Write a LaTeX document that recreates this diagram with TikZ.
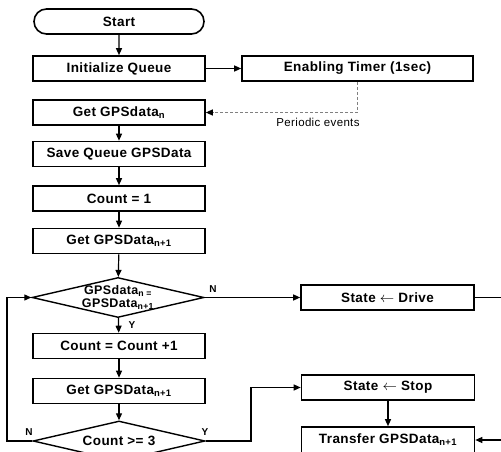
\documentclass[tikz,border=0pt]{standalone}
\usepackage{fontspec}
\setmainfont{Liberation Sans}[LetterSpace=3]
\usetikzlibrary{arrows.meta}
\usetikzlibrary{shapes.geometric}
\usetikzlibrary{shapes.misc}
\tikzset{procbox/.style={draw, line width=1.6pt, minimum width=172pt, minimum height=25pt, inner sep=1pt, font=\fontsize{13.5}{15}\selectfont\bfseries}}
\tikzset{termbox/.style={procbox, rounded rectangle}}
\tikzset{decision/.style={draw, diamond, line width=1.4pt, minimum width=172pt, minimum height=40pt, inner sep=0pt}}
\tikzset{flow/.style={line width=1.2pt, -{Triangle[length=7pt,width=6pt]}}}
\tikzset{yn/.style={font=\fontsize{10}{10}\selectfont\bfseries}}

\begin{document}
\begin{tikzpicture}[x=1pt, y=-1pt]
    \useasboundingbox (0,0) rectangle (501,452);
    \clip (0,0) rectangle (501,452);

    \node [termbox] (start) at (119, 21.5) {Start};
    \node [procbox] (init) at (119, 68.5) {Initialize Queue};
    \node [procbox, minimum width=231pt] (timer) at (357.5, 68.5) {Enabling Timer (1sec)};
    \node [procbox] (getn) at (119, 112.5) {Get GPSdata\textsubscript{n}};
    \node [procbox] (save) at (119, 154) {Save Queue GPSData};
    \node [procbox] (cnt) at (119, 198.5) {Count = 1};
    \node [procbox] (getna) at (119, 241) {Get GPSData\textsubscript{n+1}};
    \node [decision] (cmp) at (118, 297.5) {};
    \node [font=\fontsize{12.5}{13}\selectfont\bfseries, align=center] (cmptext) at (cmp) {GPSdata\textsubscript{n =}\\GPSData\textsubscript{n+1}};
    \node [procbox] (inc) at (119, 346) {Count = Count +1};
    \node [procbox] (getnb) at (119, 391) {Get GPSData\textsubscript{n+1}};
    \node [decision] (chk) at (119, 441) {};
    \node [font=\fontsize{13.5}{15}\selectfont\bfseries] (chktext) at (chk) {Count >= 3};

    \node [procbox, minimum width=173pt] (drive) at (387.5, 297.5) {State $\leftarrow$ Drive};
    \node [procbox, minimum width=173pt] (stop) at (388, 387.5) {State $\leftarrow$ Stop};
    \node [procbox, minimum width=173pt, minimum height=26pt] (xfer) at (388, 440) {Transfer GPSData\textsubscript{n+1}};

    \node [font=\fontsize{11.5}{13}\selectfont] (periodic) at (318, 122) {Periodic events};

    \coordinate (loopl) at (7, 441);
    \coordinate (loopr) at (251, 441);
    \coordinate (driveout) at (520, 297.5);
    \coordinate (xferin) at (520, 440);

    \draw [flow] (start) -- (init);
    \draw [flow] (init) -- (timer);
    \draw [line width=1pt, gray, dash pattern=on 3pt off 2pt, -{Triangle[length=7pt,width=6pt,black]}] (timer.south) |- (getn.east);
    \draw [flow] (getn) -- (save);
    \draw [flow] (save) -- (cnt);
    \draw [flow] (cnt) -- (getna);
    \draw [flow] (getna) -- (cmp);
    \draw [flow] (cmp) -- (inc);
    \draw [flow] (inc) -- (getnb);
    \draw [flow] (getnb) -- (chk);
    \draw [flow] (cmp.east) -- (drive.west);
    \draw [line width=1.2pt] (drive.east) -- (driveout);
    \draw [flow] (chk.west) -- (loopl) |- (cmp.west);
    \draw [flow] (chk.east) -- (loopr) |- (stop.west);
    \draw [flow] (stop) -- (xfer);
    \draw [flow] (xferin) -- (xfer.east);

    \node [yn] (cmpn) at (213, 289) {N};
    \node [yn] (cmpy) at (132, 325) {Y};
    \node [yn] (chkn) at (29, 432) {N};
    \node [yn] (chky) at (205, 432) {Y};
\end{tikzpicture}
\end{document}
